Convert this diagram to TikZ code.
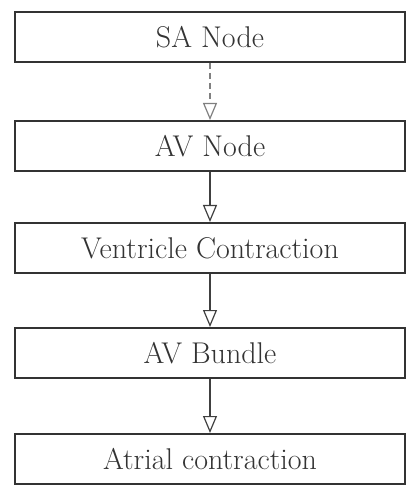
\documentclass[tikz,border=0pt]{standalone}
\usepackage{amsmath}
\usepackage{tikz}
\usetikzlibrary{arrows.meta}

\tikzset{
    stagebox/.style={draw=black!80, line width=1pt, minimum width=195pt,
        minimum height=25pt, inner sep=0pt, text=black!80,
        font=\fontsize{15}{17}\selectfont},
    flow/.style={draw=black!75, line width=0.6pt,
        -{Triangle[open, length=8.5pt, width=7pt]}}
}

\begin{document}
\begin{tikzpicture}[x=0.5pt, y=-0.5pt]
    \useasboundingbox (0,0) rectangle (407,485);
    \node[stagebox] (sa) at (210,37) {SA Node};
    \node[stagebox] (av) at (210,146) {AV Node};
    \node[stagebox] (vc) at (210,248) {Ventricle Contraction};
    \node[stagebox] (avb) at (210,353) {AV Bundle};
    \node[stagebox] (ac) at (210,459) {Atrial contraction};
    % \draw[help lines] (0,0) grid (407,485);
    \draw[flow, densely dashed, draw=black!50] (sa) -- (av);
    \draw[flow] (av) -- (vc);
    \draw[flow] (vc) -- (avb);
    \draw[flow] (avb) -- (ac);
\end{tikzpicture}
\end{document}
